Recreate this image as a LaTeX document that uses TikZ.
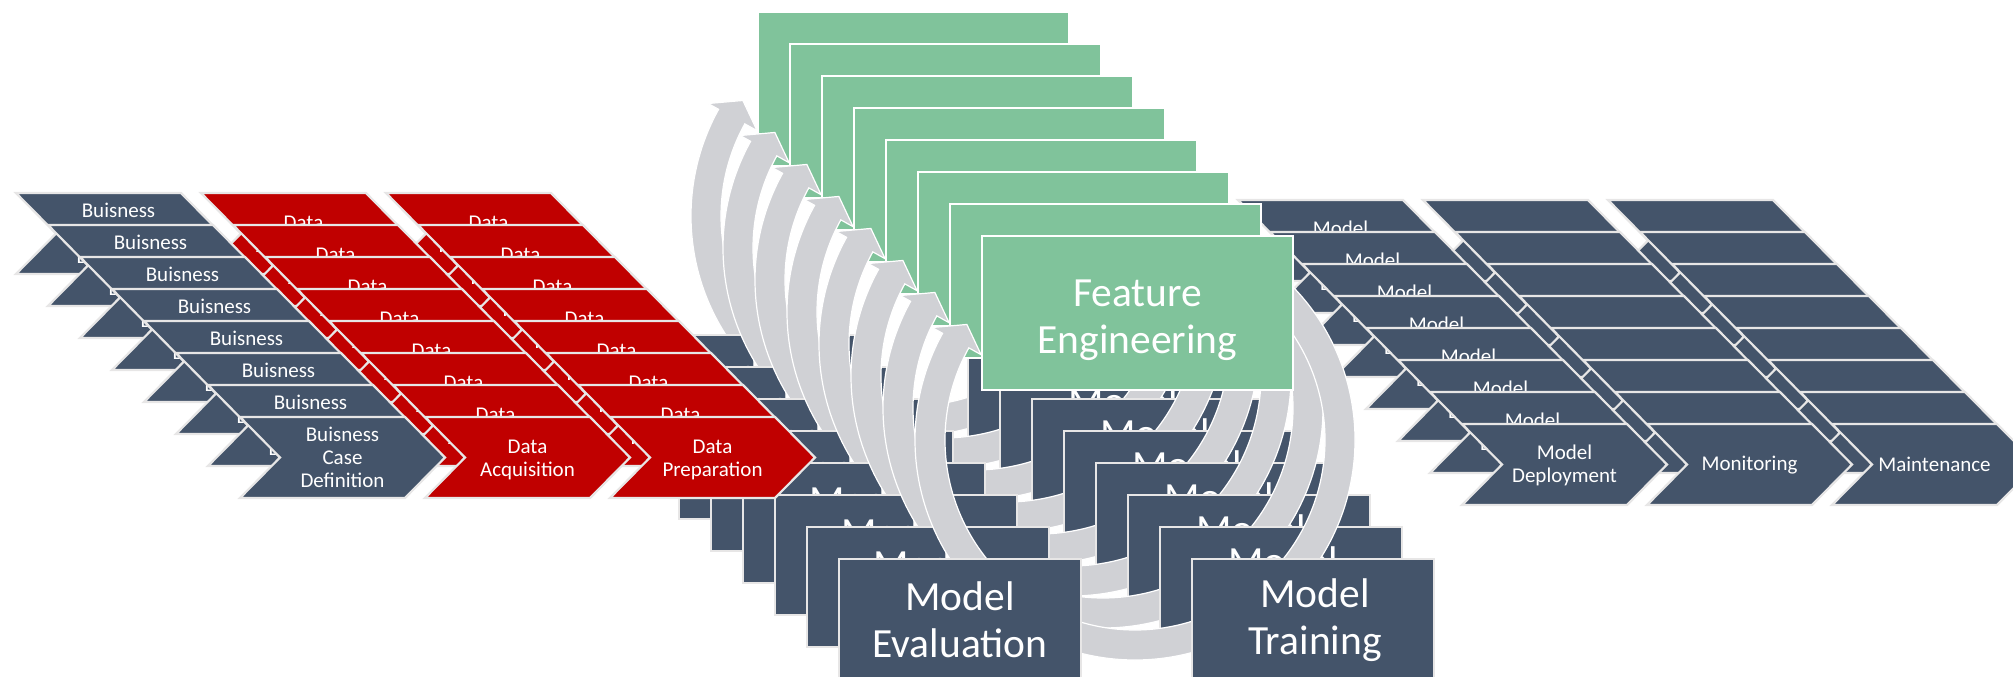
\documentclass[tikz,border=0pt]{standalone}
\usepackage{fontspec}
\setmainfont{Carlito}
\usetikzlibrary{calc}
\definecolor{slate}{HTML}{44546A}
\definecolor{dred}{HTML}{C00000}
\definecolor{fgreen}{HTML}{80C39B}
\definecolor{arcgrey}{HTML}{D0D1D5}
\definecolor{edgegrey}{HTML}{E7E6E6}
\newcommand\mychev[6]{%
  \path[chevshape,fill=#4] (#2,#3) -- ++(165,0) -- ++(40,40.5) -- ++(-40,40.5) -- ++(-165,0) -- ++(40,-40.5) -- cycle;
  \node[ctext] (#1) at ({#2+102.5},{#3+40.5+#6}) {#5};}
\begin{document}
\begin{tikzpicture}[x=1pt,y=-1pt,
  chevshape/.style={draw=edgegrey, line width=2.2pt, line join=miter},
  ctext/.style={text=white, align=center, inner sep=0pt, font=\fontsize{21}{23}\selectfont},
  btext/.style={text=white, align=center, inner sep=0pt, font=\fontsize{41.5}{47}\selectfont},
  mbox/.style={draw=edgegrey, line width=2pt, fill=slate},
  gbox/.style={draw=white, line width=2.5pt, fill=fgreen},
  band/.style={fill=arcgrey, draw=white, line width=1.2pt, line join=miter}]
\useasboundingbox (0,0) rectangle (2013,677);
\foreach \k in {0,...,7}{
  \pgfmathsetmacro\o{32*\k}
  \pgfmathsetmacro\cx{911+\o}
  \pgfmathsetmacro\cy{216+\o}
  % left process chevrons
  \mychev{bcd\k}{16+\o}{193+\o}{slate}{Buisness\\Case\\Definition}{0}
  \mychev{acq\k}{201+\o}{193+\o}{dred}{Data\\Acquisition}{2.5}
  \mychev{prep\k}{386+\o}{193+\o}{dred}{Data\\Preparation}{2.5}
  % cycle arrows
  \path[band] ($(\cx,\cy)+(138:220)$) arc[start angle=138,end angle=209,radius=220]
     -- ($(\cx,\cy)+(209:232)$) -- ($(\cx,\cy)+(214.5:204)$) -- ($(\cx,\cy)+(209:176)$)
     -- ($(\cx,\cy)+(209:190)$) arc[start angle=209,end angle=138,radius=190] -- cycle;
  \path[band] ($(\cx,\cy)+(312:220)$) arc[start angle=312,end angle=405,radius=220]
     -- ($(\cx,\cy)+(405:190)$) arc[start angle=405,end angle=312,radius=190] -- cycle;
  \path[band] ($(\cx,\cy)+(62:220)$) arc[start angle=62,end angle=118,radius=220]
     -- ($(\cx,\cy)+(118:190)$) arc[start angle=118,end angle=62,radius=190] -- cycle;
  % cycle boxes
  \path[gbox] (758+\o,12+\o) rectangle ++(311,154);
  \node[btext] (fe\k) at ({913.5+\o},{96+\o}) {Feature\\Engineering};
  \path[mbox] (615+\o,335+\o) rectangle ++(242,120);
  \node[btext] (ev\k) at ({736+\o},{396+\o}) {Model\\Evaluation};
  \path[mbox] (968+\o,335+\o) rectangle ++(242,120);
  \node[btext] (tr\k) at ({1091+\o},{396+\o}) {Model\\Training};
  % right process chevrons
  \mychev{dep\k}{1238+\o}{200+\o}{slate}{Model\\Deployment}{1}
  \mychev{mon\k}{1423+\o}{200+\o}{slate}{Monitoring}{1}
  \mychev{mnt\k}{1608+\o}{200+\o}{slate}{Maintenance}{0}
}
\end{tikzpicture}
\end{document}
